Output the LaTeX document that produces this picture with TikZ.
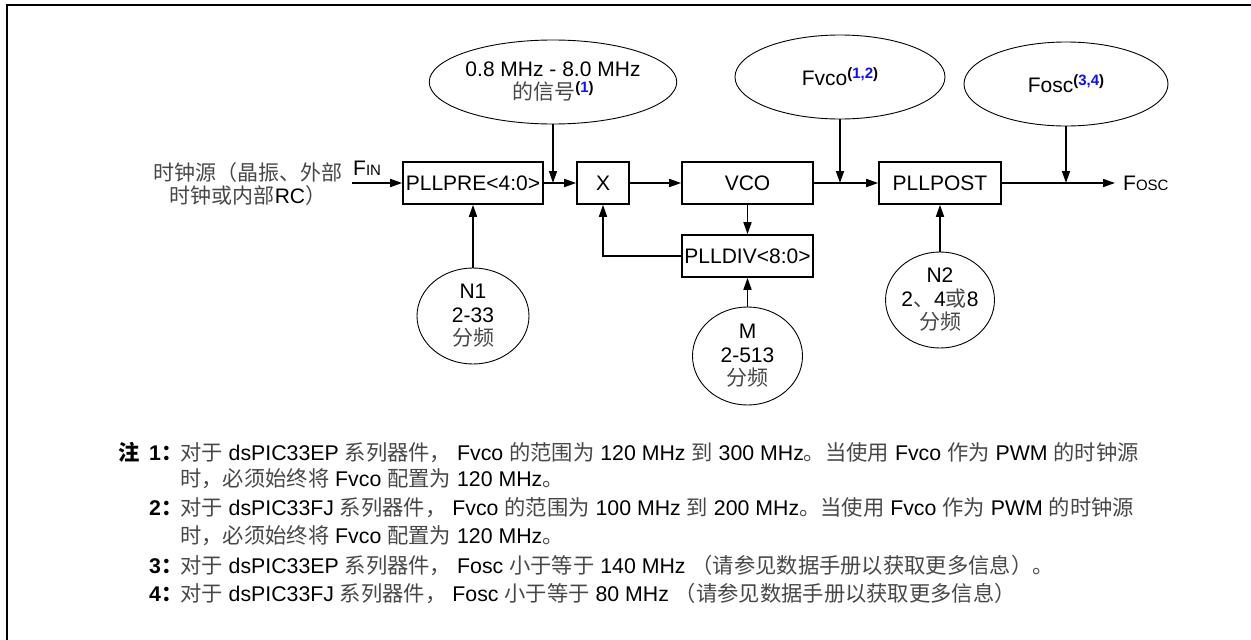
\documentclass[tikz,border=0pt]{standalone}
\usepackage{fontspec}
\setmainfont{Liberation Sans}
\newfontfamily\cjkfont{Noto Sans CJK SC}
\usetikzlibrary{shapes.geometric,arrows.meta}
\definecolor{cjkgray}{gray}{0.28}
\definecolor{refblue}{rgb}{0.05,0.05,1}
\newcommand\zh[1]{{\cjkfont\color{cjkgray}#1}}
\newcommand\zhb[1]{{\cjkfont\bfseries #1}}
\newcommand\smc[1]{{\fontsize{15}{15}\selectfont #1}}
\newcommand\refs[1]{\raisebox{7pt}{\fontsize{15}{15}\selectfont\bfseries(\textcolor{refblue}{#1})}}
\begin{document}
\begin{tikzpicture}[x=1pt,y=-1pt,
  every node/.style={font=\fontsize{21}{25}\selectfont, inner sep=0pt},
  blk/.style={draw, line width=1.6pt, minimum height=42pt},
  oval/.style={draw, ellipse, line width=0.9pt, align=center, font=\fontsize{21}{23.5}\selectfont},
  conn/.style={line width=1.6pt, -{Triangle[length=12pt,width=8pt]}},
  note/.style={anchor=base west, font=\fontsize{21.3}{25}\selectfont}
]
\useasboundingbox (0,0) rectangle (1251,640);
\draw[line width=1.6pt] (7,5) rectangle (1270,660);

% blocks
\node[blk, minimum width=140pt] (pre) at (473,183) {PLLPRE<4:0>};
\node[blk, minimum width=52pt] (mx) at (603,183) {X};
\node[blk, minimum width=131pt] (vco) at (747.5,183) {VCO};
\node[blk, minimum width=131pt] (div) at (747.5,256) {PLLDIV<8:0>};
\node[blk, minimum width=122pt] (post) at (940,183) {PLLPOST};

% ellipses
\node[oval, minimum width=212pt, minimum height=84pt, font=\fontsize{21}{23}\selectfont] (in) at (553,82) {0.8 MHz - 8.0 MHz\\\zh{的信号}\refs{1}};
\node[oval, minimum width=210pt, minimum height=84pt] (fv) at (840,77) {Fvco\refs{1,2}};
\node[oval, minimum width=204pt, minimum height=84pt] (fo) at (1066,84) {Fosc\refs{3,4}};
\node[oval, minimum width=112pt, minimum height=96pt] (n1) at (473,316) {N1\\2-33\\\zh{分频}};
\node[oval, minimum width=110pt, minimum height=98pt] (m) at (747.5,356) {M\\2-513\\\zh{分频}};
\node[oval, minimum width=100pt, minimum height=96pt] (n2) at (940,300) {N2\\2\zh{、}4\zh{或}8\\\zh{分频}};

% source
\node[align=center, font=\fontsize{21}{23}\selectfont] (src) at (248,184) {\zh{时钟源（晶振、外部}\\\zh{时钟或内部}RC\zh{）}};
\node[anchor=base west] (fin) at (353,175) {F\smc{IN}};
\coordinate (s0) at (352,183);
\coordinate (o1) at (1115,183);
\node[anchor=west] (fout) at (1123,183) {F\smc{OSC}};
\coordinate (j1) at (553,183);
\coordinate (j2) at (840,183);
\coordinate (j3) at (1066,183);

% connectors
\draw[conn] (s0) -- (pre);
\draw[conn] (pre) -- (mx);
\draw[conn] (mx) -- (vco);
\draw[conn] (vco) -- (post);
\draw[conn] (vco) -- (div);
\draw[conn] (div.west) -| (mx.south);
\draw[conn] (post) -- (o1);
\draw[conn] (in.south) -- (j1);
\draw[conn] (fv.south) -- (j2);
\draw[conn] (fo.south) -- (j3);
\draw[conn] (n1) -- (pre);
\draw[conn] (m) -- (div);
\draw[conn] (n2) -- (post);

% notes
\node[note] (zhu) at (118,460) {\zhb{注}};
\node[note] (k1) at (149,460) {\textbf{1}\zhb{：}};
\node[note] (t1) at (180,460) {\zh{对于} dsPIC33EP \zh{系列器件，} Fvco \zh{的范围为} 120 MHz \zh{到} 300 MHz\zh{。当使用} Fvco \zh{作为} PWM \zh{的时钟源}};
\node[note] (t1b) at (180,486) {\zh{时，必须始终将} Fvco \zh{配置为} 120 MHz\zh{。}};
\node[note] (k2) at (149,515) {\textbf{2}\zhb{：}};
\node[note] (t2) at (180,515) {\zh{对于} dsPIC33FJ \zh{系列器件，} Fvco \zh{的范围为} 100 MHz \zh{到} 200 MHz\zh{。当使用} Fvco \zh{作为} PWM \zh{的时钟源}};
\node[note] (t2b) at (180,543) {\zh{时，必须始终将} Fvco \zh{配置为} 120 MHz\zh{。}};
\node[note] (k3) at (149,573) {\textbf{3}\zhb{：}};
\node[note] (t3) at (180,573) {\zh{对于} dsPIC33EP \zh{系列器件，} Fosc \zh{小于等于} 140 MHz \zh{（请参见数据手册以获取更多信息）。}};
\node[note] (k4) at (149,601) {\textbf{4}\zhb{：}};
\node[note] (t4) at (180,601) {\zh{对于} dsPIC33FJ \zh{系列器件，} Fosc \zh{小于等于} 80 MHz \zh{（请参见数据手册以获取更多信息）}};
\end{tikzpicture}
\end{document}
